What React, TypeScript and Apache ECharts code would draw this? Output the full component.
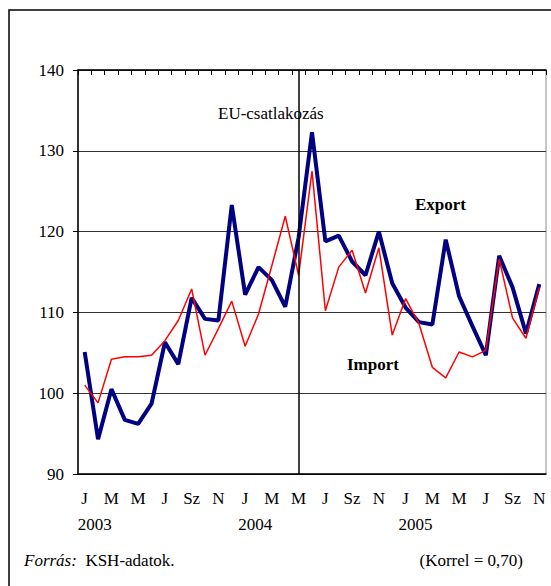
import { useRef, useEffect } from 'react';
import * as echarts from 'echarts';

const MONTHS = ['J', 'F', 'M', 'Á', 'M', 'J', 'J', 'A', 'Sz', 'O', 'N', 'D'];
const YEARS = ['2003', '2004', '2005'];

// Jan 2003 - Nov 2005
const EXPORT = [
  105.1, 94.3, 100.5, 96.7, 96.2, 98.7, 106.3, 103.6, 111.8, 109.2, 109.0, 123.3,
  112.2, 115.6, 114.0, 110.7, 119.3, 132.3, 118.8, 119.5, 116.3, 114.6, 120.0, 113.6,
  110.6, 108.8, 108.5, 119.0, 112.0, 108.3, 104.7, 117.0, 113.1, 107.4, 113.5,
];
const IMPORT = [
  101.0, 98.8, 104.2, 104.5, 104.5, 104.7, 106.5, 109.0, 112.9, 104.7, 108.0, 111.4,
  105.8, 109.8, 115.8, 121.9, 114.6, 127.5, 110.2, 115.6, 117.7, 112.4, 118.0, 107.2,
  111.7, 108.6, 103.2, 101.9, 105.1, 104.5, 105.3, 116.6, 109.3, 106.8, 113.1,
];
const EU_JOIN_INDEX = 16; // 2004 május

const categories = EXPORT.map((_, i) => `${YEARS[Math.floor(i / 12)]}|${i % 12}`);

const FONT = 'Liberation Serif, serif';
const SIZE = 17;

export default function App() {
  const chartRef = useRef<HTMLDivElement>(null);
  useEffect(() => {
    let chart: echarts.ECharts | undefined;
    if (chartRef.current) {
      chart = echarts.init(chartRef.current, undefined, { renderer: 'svg' });
      const label = { color: '#000', fontSize: SIZE, fontFamily: FONT };
      chart.setOption({
        animation: false,
        textStyle: { fontFamily: FONT },
        grid: {
          left: 78,
          right: 5,
          top: 70,
          bottom: 112,
          show: true,
          borderColor: '#8c8c8c',
          borderWidth: 1,
        },
        xAxis: [
          {
            type: 'category',
            data: categories,
            boundaryGap: true,
            axisLine: { lineStyle: { color: '#000', width: 1.5 } },
            axisTick: { show: false },
            axisLabel: {
              ...label,
              interval: 1,
              margin: 16,
              formatter: (v: string) => MONTHS[Number(v.split('|')[1])],
            },
          },
          {
            type: 'category',
            data: categories,
            position: 'top',
            boundaryGap: true,
            axisLine: { lineStyle: { color: '#000', width: 1.5 } },
            axisTick: { show: true, inside: true, length: 5, interval: 0, lineStyle: { color: '#000' } },
            axisLabel: { show: false },
          },
          {
            type: 'category',
            data: categories,
            position: 'bottom',
            offset: 26,
            boundaryGap: true,
            axisLine: { show: false },
            axisTick: { show: false },
            axisLabel: {
              ...label,
              interval: 0,
              margin: 16,
              padding: [0, 0, 0, 20],
              formatter: (v: string) => {
                const [year, m] = v.split('|');
                return m === '0' ? year : '';
              },
            },
          },
        ],
        yAxis: {
          type: 'value',
          min: 90,
          max: 140,
          interval: 10,
          axisLine: { show: true, lineStyle: { color: '#000', width: 1.5 } },
          axisTick: { show: true, length: 5, lineStyle: { color: '#000' } },
          axisLabel: { ...label, margin: 14 },
          splitLine: { lineStyle: { color: '#333', width: 1 } },
        },
        series: [
          {
            name: 'Export',
            type: 'line',
            data: EXPORT,
            symbol: 'none',
            lineStyle: { color: '#000080', width: 4 },
            markLine: {
              silent: true,
              symbol: 'none',
              label: { show: false },
              lineStyle: { color: '#000', width: 1.5, type: 'solid' },
              data: [{ xAxis: EU_JOIN_INDEX }],
            },
          },
          {
            name: 'Import',
            type: 'line',
            data: IMPORT,
            symbol: 'none',
            lineStyle: { color: '#ff0000', width: 1.5 },
          },
        ],
        graphic: [
          {
            type: 'rect',
            shape: { x: 9, y: 10, width: 600, height: 620 },
            style: { fill: 'none', stroke: '#000', lineWidth: 1.5 },
            silent: true,
          },
          {
            type: 'text',
            left: 218,
            top: 105,
            style: { text: 'EU-csatlakozás', fontSize: SIZE, fontFamily: FONT, fill: '#000' },
          },
          {
            type: 'text',
            left: 415,
            top: 196,
            style: { text: 'Export', fontSize: SIZE, fontWeight: 'bold', fontFamily: FONT, fill: '#000' },
          },
          {
            type: 'text',
            left: 347,
            top: 356,
            style: { text: 'Import', fontSize: SIZE, fontWeight: 'bold', fontFamily: FONT, fill: '#000' },
          },
          {
            type: 'text',
            left: 24,
            top: 552,
            style: {
              text: '{i|Forrás:}  KSH-adatok.',
              fontSize: SIZE,
              fontFamily: FONT,
              fill: '#000',
              rich: { i: { fontStyle: 'italic', fontSize: SIZE, fontFamily: FONT, fill: '#000' } },
            },
          },
          {
            type: 'text',
            right: 28,
            top: 552,
            style: { text: '(Korrel = 0,70)', fontSize: SIZE, fontFamily: FONT, fill: '#000' },
          },
        ],
      });
    }
    return () => {
      chart?.dispose();
    };
  }, []);

  return (
    <div
      ref={chartRef}
      style={{ position: 'fixed', left: 0, top: 0, width: 551, height: 586, background: '#fff' }}
    />
  );
}
